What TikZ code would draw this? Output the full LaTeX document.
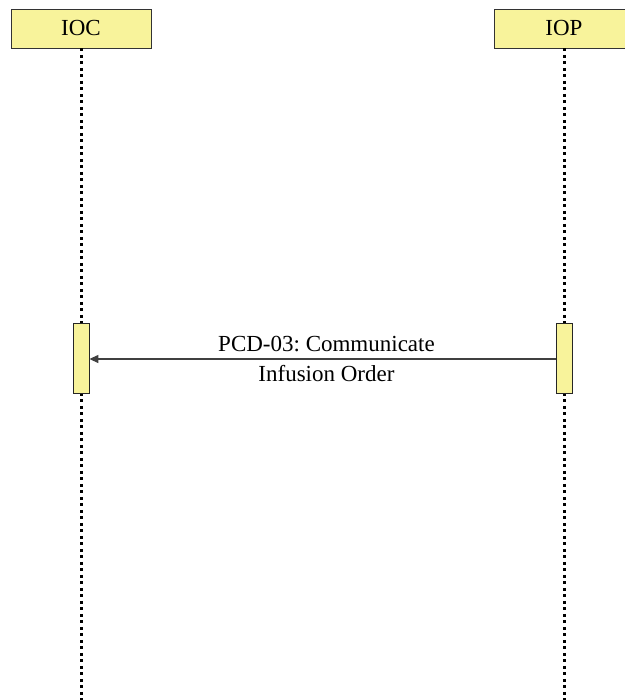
\documentclass[tikz,border=0pt]{standalone}
\usepackage{fontspec}
\setmainfont{Liberation Serif}
\usetikzlibrary{arrows.meta,positioning}
\definecolor{boxyellow}{HTML}{F8F39B}
\frenchspacing

\begin{document}
\begin{tikzpicture}[
			x=0.5pt,y=-0.5pt,
			>={Triangle[length=4.5pt,width=4pt]},
			actor/.style={
				draw=black!80,
				fill=boxyellow,
				align=center,
				font=\fontsize{11.5}{14}\selectfont,
				minimum width=70pt,
				minimum height=19.5pt,
				inner sep=0pt
			},
			activation/.style={
				draw=black!85,
				fill=boxyellow,
				minimum width=8pt,
				minimum height=35pt,
				inner sep=0pt
			},
			lifeline/.style={
				line width=1.5pt,
				dash pattern=on 1.5pt off 1.75pt
			},
			message/.style={
				->,
				draw=black!75,
				line width=0.6pt
			}
			]
			
			\useasboundingbox (0,0) rectangle (625,700);
			\clip (0,0) rectangle (625,700);
			
			% Actors
			\node[actor] (ioc) at (81,28.5) {IOC};
			\node[actor] (iop) at (564,28.5) {IOP};
			\coordinate (bottom) at (0,700);
			
			% Lifelines
			\draw[lifeline] (ioc.south) -- (ioc |- bottom);
			\draw[lifeline] (iop.south) -- (iop |- bottom);
			
			% Activations
			\node[activation] (actioc) at (81,358) {};
			\node[activation] (actiop) at (564,358) {};
			
			% Message
			\draw[message] (actiop.west |- 0,359) -- node[align=center,xshift=2pt,font=\fontsize{11.5}{15}\selectfont] {PCD-03: Communicate\\Infusion Order} (actioc.east |- 0,359);
			
		\end{tikzpicture}
\end{document}
